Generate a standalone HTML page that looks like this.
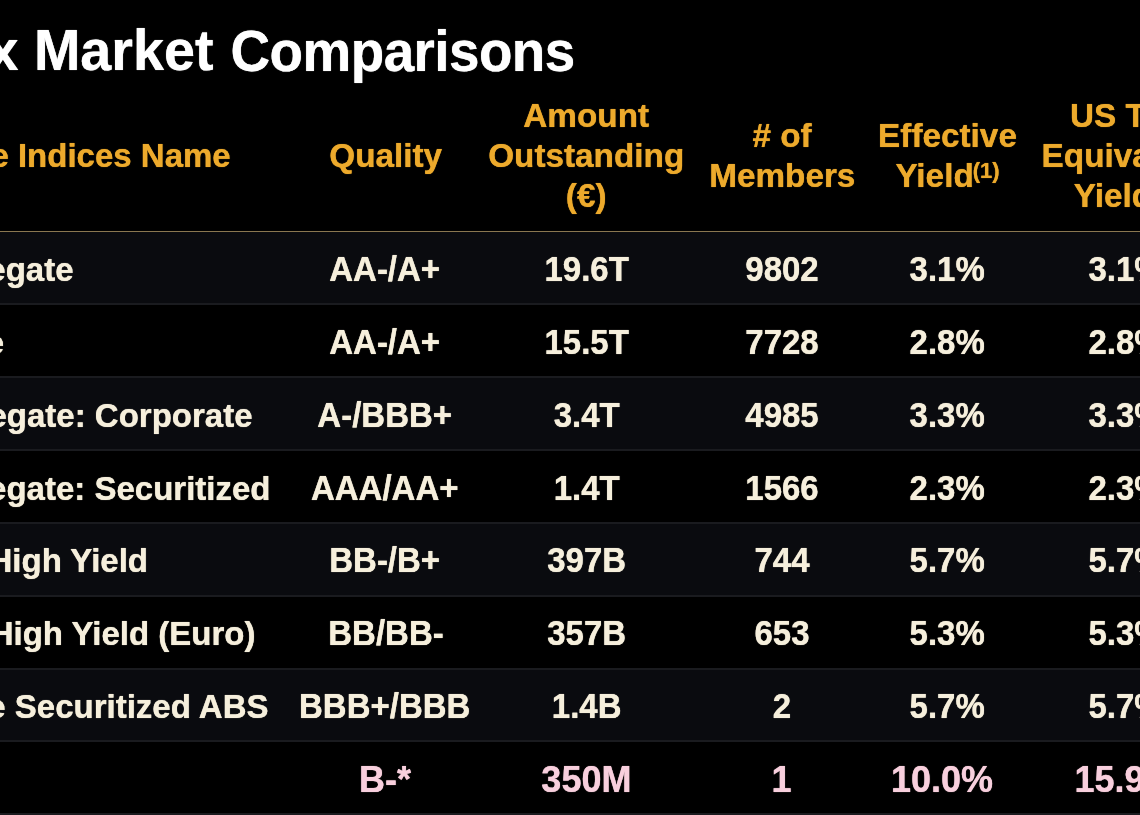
<!DOCTYPE html>
<html lang="en"><head><meta charset="utf-8"><title>Index Market Comparisons</title>
<style>
html,body{margin:0;padding:0;background:#000;}
body{width:1140px;height:815px;overflow:hidden;position:relative;font-family:"Liberation Sans",Arial,sans-serif;font-weight:bold;}
#w{position:absolute;left:0;top:0;width:1140px;height:815px;overflow:hidden;filter:blur(0.6px);}
.t{position:absolute;white-space:nowrap;line-height:1;}
.title{color:#fff;font-size:54.8px;}
.h{color:#edaa2c;font-size:33.3px;}
.d{color:#f6efdc;font-size:33px;}
.p{color:#f8cfdd;font-size:36px;}
.t{transform-origin:50% 84.65%;transform:scaleY(1.02);text-shadow:0 0 0.8px currentColor;-webkit-text-stroke:0.15px currentColor;}
.c{transform:translateX(-50%) scaleY(1.02);text-align:center;}
.r{transform:translateX(-100%) scaleY(1.02);}
.d.c{transform:translateX(-50%) scaleY(1.04);}
.row{position:absolute;left:0;width:1140px;background:#0a0b0f;}
.ln{position:absolute;left:0;width:1140px;height:2px;background:#1a1b1f;}
h1{margin:0;padding:0;font:inherit;}
sup{font-size:0.66em;line-height:0;vertical-align:baseline;position:relative;top:-0.41em;margin-left:-1px;}
</style></head><body><div id="w">

<div class="row" style="top:231px;height:73px"></div>
<div class="row" style="top:377px;height:73px"></div>
<div class="row" style="top:523px;height:73px"></div>
<div class="row" style="top:669px;height:72px"></div>
<div class="ln" style="top:303px"></div>
<div class="ln" style="top:376px"></div>
<div class="ln" style="top:449px"></div>
<div class="ln" style="top:522px"></div>
<div class="ln" style="top:595px"></div>
<div class="ln" style="top:668px"></div>
<div class="ln" style="top:740px"></div>
<div class="ln" style="top:813px"></div>
<div class="ln" style="top:230.55px;height:1.5px;background:#8a7750"></div>
<h1><span class="t title" style="left:-12.5px;top:23.85px;font-size:55.7px;transform:scaleY(1.02)">x Market </span><span class="t title" style="left:230.6px;top:24.61px;font-size:54.8px;letter-spacing:-0.55px;transform:scaleY(1.035)">Comparisons</span></h1>
<div class="thead">
<div class="th">
<span class="t h r" style="left:230.7px;top:139.37px;font-size:33px">e Indices Name</span>
</div>
<div class="th">
<span class="t h c" style="left:385.7px;top:138.81px">Quality</span>
</div>
<div class="th">
<span class="t h c" style="left:586.2px;top:99.01px">Amount</span>
<span class="t h c" style="left:586.2px;top:138.81px">Outstanding</span>
<span class="t h c" style="left:586.2px;top:178.81px">(&euro;)</span>
</div>
<div class="th">
<span class="t h c" style="left:782px;top:119.01px"># of</span>
<span class="t h c" style="left:782.3px;top:158.81px">Members</span>
</div>
<div class="th">
<span class="t h c" style="left:947.5px;top:119.01px">Effective</span>
<span class="t h c" style="left:947.5px;top:158.81px">Yield<sup>(1)</sup></span>
</div>
<div class="th">
<span class="t h " style="left:1070px;top:99.01px">US T</span>
<span class="t h " style="left:1041.6px;top:138.81px">Equiva</span>
<span class="t h " style="left:1073.8px;top:178.81px">Yield</span>
</div>
</div>
<div class="tr">
<span class="t d r" style="left:73.5px;top:253.01px">egate</span>
<span class="t d c" style="left:384.7px;top:253.01px">AA-/A+</span>
<span class="t d c" style="left:586.7px;top:253.01px">19.6T</span>
<span class="t d c" style="left:782px;top:253.01px">9802</span>
<span class="t d c" style="left:947.2px;top:253.01px">3.1%</span>
<span class="t d c" style="left:1126px;top:253.01px">3.1%</span>
</div>
<div class="tr">
<span class="t d r" style="left:4px;top:325.88px">e</span>
<span class="t d c" style="left:384.7px;top:325.88px">AA-/A+</span>
<span class="t d c" style="left:586.7px;top:325.88px">15.5T</span>
<span class="t d c" style="left:782px;top:325.88px">7728</span>
<span class="t d c" style="left:947.2px;top:325.88px">2.8%</span>
<span class="t d c" style="left:1126px;top:325.88px">2.8%</span>
</div>
<div class="tr">
<span class="t d r" style="left:252.5px;top:398.75px">egate: Corporate</span>
<span class="t d c" style="left:384.7px;top:398.75px">A-/BBB+</span>
<span class="t d c" style="left:586.7px;top:398.75px">3.4T</span>
<span class="t d c" style="left:782px;top:398.75px">4985</span>
<span class="t d c" style="left:947.2px;top:398.75px">3.3%</span>
<span class="t d c" style="left:1126px;top:398.75px">3.3%</span>
</div>
<div class="tr">
<span class="t d r" style="left:270.5px;top:471.62px">egate: Securitized</span>
<span class="t d c" style="left:384.7px;top:471.62px">AAA/AA+</span>
<span class="t d c" style="left:586.7px;top:471.62px">1.4T</span>
<span class="t d c" style="left:782px;top:471.62px">1566</span>
<span class="t d c" style="left:947.2px;top:471.62px">2.3%</span>
<span class="t d c" style="left:1126px;top:471.62px">2.3%</span>
</div>
<div class="tr">
<span class="t d r" style="left:148px;top:544.49px">High Yield</span>
<span class="t d c" style="left:384.7px;top:544.49px">BB-/B+</span>
<span class="t d c" style="left:586.7px;top:544.49px">397B</span>
<span class="t d c" style="left:782px;top:544.49px">744</span>
<span class="t d c" style="left:947.2px;top:544.49px">5.7%</span>
<span class="t d c" style="left:1126px;top:544.49px">5.7%</span>
</div>
<div class="tr">
<span class="t d r" style="left:255.5px;top:617.36px">High Yield (Euro)</span>
<span class="t d c" style="left:386.0px;top:617.36px">BB/BB-</span>
<span class="t d c" style="left:586.7px;top:617.36px">357B</span>
<span class="t d c" style="left:782px;top:617.36px">653</span>
<span class="t d c" style="left:947.2px;top:617.36px">5.3%</span>
<span class="t d c" style="left:1126px;top:617.36px">5.3%</span>
</div>
<div class="tr">
<span class="t d r" style="left:268.5px;top:690.23px">e Securitized ABS</span>
<span class="t d c" style="left:384.7px;top:690.23px">BBB+/BBB</span>
<span class="t d c" style="left:586.7px;top:690.23px">1.4B</span>
<span class="t d c" style="left:782px;top:690.23px">2</span>
<span class="t d c" style="left:947.2px;top:690.23px">5.7%</span>
<span class="t d c" style="left:1126px;top:690.23px">5.7%</span>
</div>
<div class="tr">
<span class="t d c p" style="left:384.9px;top:761.53px">B-*</span>
<span class="t d c p" style="left:586.4px;top:761.53px">350M</span>
<span class="t d c p" style="left:781.5px;top:761.53px">1</span>
<span class="t d c p" style="left:942px;top:761.53px">10.0%</span>
<span class="t d c p" style="left:1125.6px;top:761.53px">15.9%</span>
</div>
</div></body></html>
